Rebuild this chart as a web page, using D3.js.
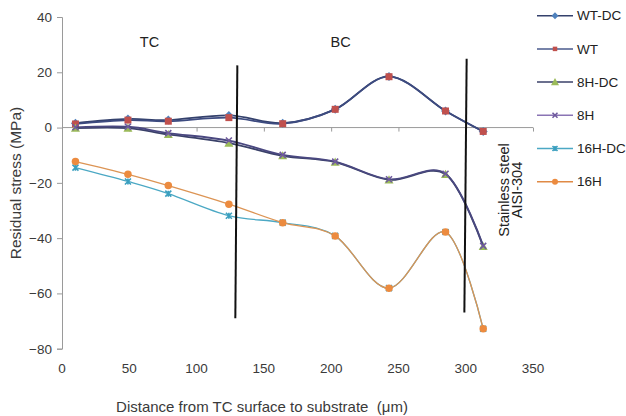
<!DOCTYPE html>
<html><head><meta charset="utf-8">
<script src="https://cdn.jsdelivr.net/npm/d3@7"></script>
<style>body{margin:0;background:#fff}svg{display:block;font-family:"Liberation Sans",Arial,sans-serif}</style>
</head><body>
<svg id="c" width="626" height="416"></svg>
<script>
// ---- data ----
const distances = [10, 49, 79, 124, 164, 203, 243, 285, 313];
const seriesNames = ["WT-DC", "WT", "8H-DC", "8H", "16H-DC", "16H"];
const wtDC  = [1.6, 3.1, 2.7, 4.4, 1.6, 6.6, 18.5, 6.0, -1.4];
const wt    = [1.3, 2.7, 2.3, 3.6, 1.4, 6.6, 18.4, 6.0, -1.4];
const h8DC  = [-0.2, -0.2, -2.5, -5.6, -10.2, -12.5, -18.9, -16.9, -43.0];
const h8    = [0.1, 0.3, -2.0, -4.7, -9.9, -12.3, -18.7, -16.7, -42.8];
const h16DC = [-14.5, -19.5, -23.9, -31.9, -34.4, -39.2, -58.1, -37.8, -72.8];
const h16   = [-12.3, -16.9, -21.0, -27.7, -34.4, -39.2, -58.1, -37.8, -72.8];
const xTicks = [0, 50, 100, 150, 200, 250, 300, 350];
const yTicks = [-80, -60, -40, -20, 0, 20, 40];
const regionLabels = [{text: "TC", x: 65, y: 31}, {text: "BC", x: 207, y: 31}];
const boundaries = [{x1: 130.3, y1: 22.5, x2: 128.8, y2: -69}, {x1: 300.7, y1: 24.9, x2: 299.0, y2: -66.9}];

const seriesValues = [wtDC, wt, h8DC, h8, h16DC, h16];
const styles = [
  {line: "#34416c", legendLine: "#34416c", fill: "#4f81bd", marker: "diamond", size: 9, lsize: 7},
  {line: "#3d4b80", legendLine: "#4a5a8c", fill: "#c0504d", marker: "square", size: 7, lsize: 4.5},
  {line: "#3a4168", legendLine: "#3a4168", fill: "#9bbb59", marker: "triangle", size: 9, lsize: 8},
  {line: "#4a4880", legendLine: "#8a74b4", fill: "#6f5a9e", marker: "x", size: 6, lsize: 5},
  {line: "#4ba8c4", legendLine: "#4ba8c4", fill: "#3a9fbf", marker: "star", size: 6, lsize: 5},
  {line: "#dc9454", legendLine: "#e08a45", fill: "#ec8b3f", marker: "circle", size: 7.5, lsize: 6}
];

const svg = d3.select("#c");
const x = d3.scaleLinear().domain([0, 350]).range([62, 533]);
const y = d3.scaleLinear().domain([-80, 40]).range([348.7, 17]);
const axisColor = "#9a9a9a";
const textColor = "#3a3a3a";

// Y axis
const yAxis = svg.append("g").attr("transform", "translate(62,0)")
  .call(d3.axisLeft(y).tickValues(yTicks).tickSize(5).tickPadding(5));
yAxis.select(".domain").attr("stroke", axisColor);
yAxis.selectAll(".tick line").attr("stroke", axisColor);
yAxis.selectAll(".tick text").attr("fill", textColor).style("font-size", "13.5px");

// X axis line at y=0, tick labels at bottom
const xAxis = svg.append("g").attr("transform", `translate(0,${y(0)})`)
  .call(d3.axisBottom(x).tickValues(xTicks).tickSize(4).tickFormat(""));
xAxis.select(".domain").attr("stroke", axisColor).attr("d", `M${x(0)},0H${x(350)}`);
xAxis.selectAll(".tick line").attr("stroke", axisColor);
svg.append("g").selectAll("text").data(xTicks).join("text")
  .attr("x", d => x(d)).attr("y", 373).attr("text-anchor", "middle")
  .attr("fill", textColor).style("font-size", "13.5px").text(d => d);

// axis titles
svg.append("text").attr("x", 262).attr("y", 412).attr("text-anchor", "middle")
  .attr("fill", textColor).style("font-size", "15px").text("Distance from TC surface to substrate\u00a0\u00a0(μm)");
svg.append("text").attr("transform", "translate(21,183) rotate(-90)").attr("text-anchor", "middle")
  .attr("fill", textColor).style("font-size", "15.5px").text("Residual stress (MPa)");

// marker generator
function markerPath(type, s) {
  const h = s / 2;
  switch (type) {
    case "diamond": return `M0,${-h}L${h},0L0,${h}L${-h},0Z`;
    case "square": return `M${-h},${-h}H${h}V${h}H${-h}Z`;
    case "triangle": return `M0,${-h}L${h},${h * 0.8}L${-h},${h * 0.8}Z`;
    case "x": return `M${-h},${-h}L${h},${h}M${h},${-h}L${-h},${h}`;
    case "star": return `M${-h},${-h}L${h},${h}M${h},${-h}L${-h},${h}M0,${-h}V${h}`;
    case "circle": return d3.symbol(d3.symbolCircle, Math.PI * h * h)();
  }
}
function drawMarker(g, st, s) {
  const open = st.marker === "x" || st.marker === "star";
  g.append("path").attr("d", markerPath(st.marker, s))
    .attr("fill", open ? "none" : st.fill)
    .attr("stroke", open ? st.fill : "none")
    .attr("stroke-width", open ? 1.6 : 0);
}

// series lines
const line = d3.line().x(d => x(d[0])).y(d => y(d[1])).curve(d3.curveCatmullRom.alpha(0));
seriesValues.forEach((vals, i) => {
  const st = styles[i];
  const pts = distances.map((d, j) => [d, vals[j]]);
  svg.append("path").attr("d", line(pts)).attr("fill", "none")
    .attr("stroke", st.line).attr("stroke-width", i < 4 ? 1.8 : 1.3);
  pts.forEach(p => {
    const g = svg.append("g").attr("transform", `translate(${x(p[0])},${y(p[1])})`);
    drawMarker(g, st, st.size);
  });
});

// boundary lines
svg.append("g").selectAll("line").data(boundaries).join("line")
  .attr("x1", d => x(d.x1)).attr("y1", d => y(d.y1)).attr("x2", d => x(d.x2)).attr("y2", d => y(d.y2))
  .attr("stroke", "#111").attr("stroke-width", 2);

// region labels
svg.append("g").selectAll("text").data(regionLabels).join("text")
  .attr("x", d => x(d.x)).attr("y", d => y(d.y)).attr("text-anchor", "middle").attr("dy", "0.35em")
  .attr("fill", "#222").style("font-size", "14.5px").text(d => d.text);

// substrate label
const sub = svg.append("text").attr("transform", "translate(509,190) rotate(-90)").attr("text-anchor", "middle")
  .attr("fill", "#222").style("font-size", "14.5px");
sub.append("tspan").attr("x", 0).attr("dy", 0).text("Stainless steel");
sub.append("tspan").attr("x", 0).attr("dy", "0.9em").text("AISI-304");

// legend
const legend = svg.append("g");
seriesNames.forEach((name, i) => {
  const st = styles[i];
  const g = legend.append("g").attr("transform", `translate(0,${15.7 + i * 33.2})`);
  g.append("line").attr("x1", 537).attr("x2", 573).attr("y1", 0).attr("y2", 0)
    .attr("stroke", st.legendLine).attr("stroke-width", 1.5);
  drawMarker(g.append("g").attr("transform", "translate(555,0)"), st, st.lsize);
  g.append("text").attr("x", 577).attr("y", 0).attr("dy", "0.35em")
    .attr("fill", "#222").style("font-size", "13.5px").text(name);
});
</script>
</body></html>
